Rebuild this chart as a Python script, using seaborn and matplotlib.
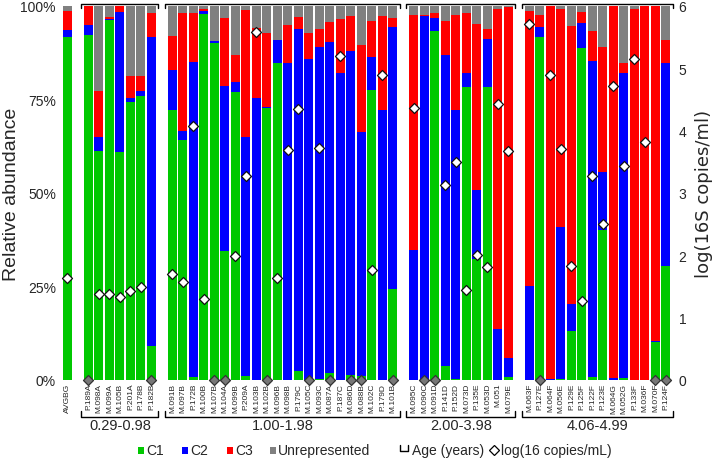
import numpy as np
import pandas as pd
import matplotlib
matplotlib.use("Agg")
import matplotlib.pyplot as plt
import matplotlib.transforms as mtransforms
from matplotlib.lines import Line2D
from matplotlib.patches import Rectangle
import seaborn as sns

# ---------------- data ----------------
samples = ["AVGBG",
           "P.189A", "M.098A", "M.099A", "M.105B", "P.201A", "P.178B", "P.182B",
           "M.091B", "M.097B", "P.172B", "M.100B", "M.107B", "M.104A", "M.099B", "P.209A",
           "M.103B", "M.102B", "M.096B", "M.098B", "P.179C", "M.105C", "M.093C", "M.087A",
           "P.187C", "M.086D", "M.088B", "M.102C", "P.179D", "M.101B",
           "M.095C", "M.090C", "M.091D", "P.141D", "P.152D", "M.073D", "P.135E", "M.053D",
           "M.051", "M.079E",
           "M.063F", "P.127E", "M.064F", "M.056E", "P.129E", "P.125F", "P.122F", "P.123E",
           "M.064G", "M.052G", "P.133F", "M.036F", "M.070F", "P.124F"]
group_labels = ["0.29-0.98", "1.00-1.98", "2.00-3.98", "4.06-4.99"]
group_sizes = [7, 22, 10, 14]

c1 = [91.8,
      92.3, 61.3, 96.2, 60.9, 74.4, 76.0, 9.2,
      72.2, 64.2, 0.7, 97.9, 90.2, 34.4, 76.9, 1.2, 0.0, 72.6, 84.8, 0.0, 2.5, 0.0, 0.3, 1.9,
      0.0, 1.3, 1.1, 77.6, 0.0, 24.3,
      0.0, 0.0, 93.2, 3.8, 0.3, 78.4, 32.4, 78.3, 0.0, 0.7,
      0.0, 91.6, 0.0, 0.3, 13.0, 88.7, 0.7, 40.1, 0.0, 0.5, 0.0, 0.0, 10.2, 30.4]
c2 = [1.8,
      2.7, 3.6, 0.2, 37.6, 0.9, 1.2, 82.6,
      10.7, 2.5, 84.4, 0.7, 0.4, 44.1, 2.7, 63.7, 75.4, 0.3, 6.1, 84.8, 91.4, 85.8, 88.7, 88.4,
      82.1, 86.7, 65.3, 8.7, 72.3, 70.2,
      34.8, 97.4, 3.7, 83.1, 71.9, 3.7, 18.3, 12.9, 13.6, 5.3,
      25.1, 2.8, 0.3, 40.7, 7.3, 6.8, 84.5, 15.6, 0.5, 81.6, 0.0, 0.0, 0.3, 54.4]
c3 = [5.0,
      5.0, 12.5, 0.6, 1.5, 6.0, 4.2, 6.3,
      9.2, 31.5, 13.0, 0.6, 0.0, 18.4, 7.3, 33.9, 18.6, 19.8, 0.0, 10.0, 3.1, 7.0, 4.9, 5.3,
      14.3, 9.4, 23.1, 9.6, 25.0, 2.4,
      62.8, 0.3, 1.3, 9.0, 25.5, 16.0, 44.6, 2.7, 85.6, 93.6,
      73.5, 3.1, 99.7, 58.2, 74.4, 3.0, 8.0, 33.3, 99.5, 2.7, 99.2, 100.0, 89.5, 6.2]
unrep = [1.4,
         0.0, 22.6, 3.0, 0.0, 18.7, 18.6, 1.9,
         7.9, 1.8, 1.9, 0.8, 9.4, 3.1, 13.1, 1.2, 6.0, 7.3, 9.1, 5.2, 3.0, 7.2, 6.1, 4.4,
         3.6, 2.6, 10.5, 4.1, 2.7, 3.1,
         2.4, 2.3, 1.8, 4.1, 2.3, 1.9, 4.7, 6.1, 0.8, 0.4,
         1.4, 2.5, 0.0, 0.8, 5.3, 1.5, 6.8, 11.0, 0.0, 15.2, 0.8, 0.0, 0.0, 9.0]
# log(16S copies/mL); 0 = below detection (grey diamond)
log16s = [1.64,
          0.0, 1.38, 1.38, 1.33, 1.42, 1.50, 0.0,
          1.70, 1.58, 4.07, 1.30, 0.0, 0.0, 1.99, 3.27, 5.59, 0.0, 1.64, 3.69, 4.34, 0.0, 3.72, 0.0,
          5.19, 0.0, 0.0, 1.77, 4.90, 0.0,
          4.36, 0.0, 0.0, 3.13, 3.50, 1.45, 2.01, 1.82, 4.43, 3.67,
          5.71, 0.0, 4.90, 3.71, 1.83, 1.26, 3.27, 2.50, 4.72, 3.44, 5.15, 3.82, 0.0, 0.0]

# ---------------- layout helpers ----------------
W, H = 716, 460
GREEN, BLUE, RED, GREY = "#00C800", "#0000FF", "#FF0000", "#808080"

# category order: reference bar, then each group after one empty (spacer) slot
order = [samples[0]]
pos = [0]
group_ranges = []
k = 1
for gi, n in enumerate(group_sizes):
    order.append(f"_gap{gi}")
    start = len(order)
    order.extend(samples[k:k + n])
    pos.extend(range(start, start + n))
    group_ranges.append((start, start + n - 1))
    k += n
pos = np.array(pos, dtype=float)

df = pd.DataFrame({"sample": samples, "pos": pos, "C1": c1, "C2": c2, "C3": c3,
                   "U": unrep, "log": log16s})
df["s1"] = df["C1"]
df["s2"] = df["s1"] + df["C2"]
df["s3"] = df["s2"] + df["C3"]
df["s4"] = df["s3"] + df["U"]

sns.set_theme(style="white")
plt.rcParams["font.family"] = ["Liberation Sans", "DejaVu Sans"]

fig = plt.figure(figsize=(W / 100, H / 100), dpi=100)
ax = fig.add_axes([60 / W, (H - 381) / H, (673 - 60) / W, (381 - 7) / H])

for col, colr in [("s4", GREY), ("s3", RED), ("s2", BLUE), ("s1", GREEN)]:
    sns.barplot(data=df, x="sample", y=col, order=order, color=colr,
                saturation=1, width=0.86, errorbar=None, linewidth=0, ax=ax)

ax2 = ax.twinx()
det = df[df["log"] > 0]
und = df[df["log"] <= 0]
sns.scatterplot(data=det, x="pos", y="log", marker="D", s=26, color="white",
                edgecolor="#111111", linewidth=0.9, ax=ax2, zorder=5)
sns.scatterplot(data=und, x="pos", y="log", marker="D", s=26, color="#777777",
                edgecolor="#333333", linewidth=0.9, ax=ax2, zorder=5)
for c in ax2.collections:
    c.set_clip_on(False)

ax.set_xlim(-0.71, 57.67)
ax.set_ylim(0, 100)
ax2.set_ylim(0, 6)
ax.set_xticks(pos)
ax.set_xticklabels(samples, rotation=90, fontsize=6)
ax.tick_params(axis="x", length=0, pad=2)
ax.set_yticks([0, 25, 50, 75, 100])
ax.set_yticklabels(["0%", "25%", "50%", "75%", "100%"], fontsize=10)
ax.tick_params(axis="y", length=0, pad=3)
ax2.set_yticks(range(7))
ax2.set_yticklabels([str(i) for i in range(7)], fontsize=10)
ax2.tick_params(axis="y", length=0, pad=4)
ax.set_xlabel("")
ax.set_ylabel("")
ax2.set_xlabel("")
ax2.set_ylabel("")
for a in (ax, ax2):
    for s in a.spines.values():
        s.set_visible(False)

# group brackets
tr = mtransforms.blended_transform_factory(ax.transData, fig.transFigure)
def fy(py):
    return 1 - py / H
for (a, b), lab in zip(group_ranges, group_labels):
    x0, x1 = a - 0.75, b + 0.65
    fig.add_artist(Line2D([x0, x0, x1, x1], [fy(8.5), fy(5), fy(5), fy(8.5)],
                          transform=tr, color="black", lw=1))
    fig.add_artist(Line2D([x0, x0, x1, x1], [fy(412), fy(418), fy(418), fy(412)],
                          transform=tr, color="black", lw=1))
    fig.text((a + b) / 2, fy(426), lab, transform=tr, ha="center", va="center",
             fontsize=10.5)

fig.text(12 / W, fy(194), "Relative abundance", rotation=90, ha="center",
         va="center", fontsize=14)
fig.text(704 / W, fy(194), "log(16S copies/ml)", rotation=90, ha="center",
         va="center", fontsize=13, family=["DejaVu Sans"])

# custom legend
ly = 451
for px, lab, colr in [(138, "C1", GREEN), (182, "C2", BLUE), (227, "C3", RED),
                      (270, "Unrepresented", GREY)]:
    fig.add_artist(Rectangle((px / W, fy(ly + 3.5)), 6 / W, 7 / H,
                             transform=fig.transFigure, color=colr, lw=0))
    fig.text((px + 8) / W, fy(ly), lab, ha="left", va="center", fontsize=10)
fig.add_artist(Line2D([400 / W, 400 / W, 408 / W, 408 / W],
                      [fy(446), fy(452), fy(452), fy(446)],
                      transform=fig.transFigure, color="black", lw=1))
fig.text(412 / W, fy(ly), "Age (years)", ha="left", va="center", fontsize=10)
fig.add_artist(Line2D([494 / W], [fy(ly)], transform=fig.transFigure, marker="D",
                      markersize=5, markerfacecolor="white",
                      markeredgecolor="black", markeredgewidth=0.9, lw=0))
fig.text(501 / W, fy(ly), "log(16 copies/mL)", ha="left", va="center", fontsize=10)

fig.savefig("out.png", dpi=100)
